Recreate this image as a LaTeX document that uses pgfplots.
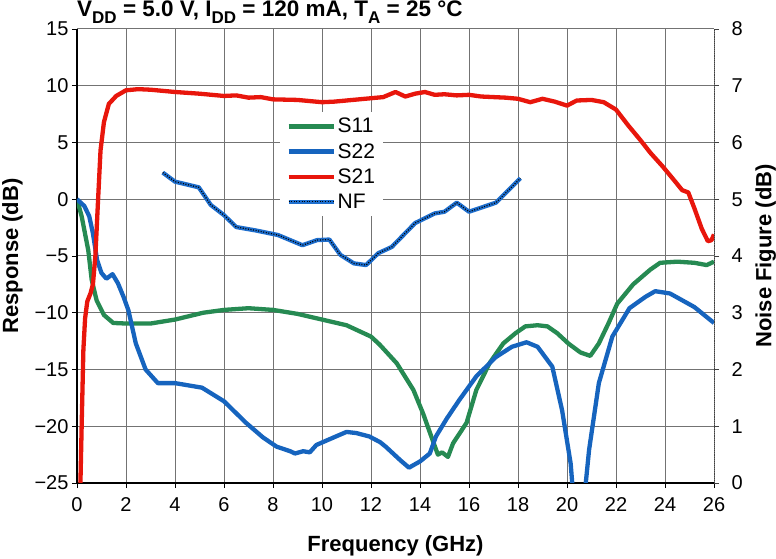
\documentclass[border=0pt]{standalone}
\usepackage{pgfplots}
\pgfplotsset{compat=1.18}
\usepackage{fontspec}
\setmainfont{Liberation Sans}
\definecolor{sgreen}{RGB}{38,138,82}
\definecolor{sblue}{RGB}{22,100,190}
\definecolor{sred}{RGB}{232,22,12}
\definecolor{nfblue}{RGB}{30,110,205}
\tikzset{nfstyle/.style={nfblue, line width=4.3pt, line join=round, postaction={draw=black, line width=1.2pt, dash pattern=on 1pt off 1.6pt}}}
\newcommand{\sub}[1]{\raisebox{-0.28em}{\fontsize{17}{17}\selectfont #1}}
\begin{document}
\begin{tikzpicture}
\begin{axis}[
  name=main,
  scale only axis, width=637pt, height=454pt,
  xmin=0, xmax=26, ymin=-25, ymax=15,
  xtick={0,2,...,26}, ytick={-25,-20,...,15},
  yticklabels={−25,−20,−15,−10,−5,0,5,10,15},
  /pgf/number format/assume math mode=true,
  axis x line*=bottom, axis y line*=left,
  axis line style={-, line width=1.6pt, black},
  tick align=outside, major tick length=5pt,
  tick style={black, line width=0.8pt},
  grid=major, major grid style={black!55, line width=1pt},
  tick label style={font=\fontsize{20}{20}\selectfont},
  xticklabel style={yshift=-6pt},
  xlabel={Frequency (GHz)}, ylabel={Response (dB)},
  xlabel style={yshift=-17pt},
  ylabel style={yshift=5pt},
  label style={font=\bfseries\fontsize{22}{22}\selectfont},
  legend style={at={(0.319,0.817)}, anchor=north west, draw=none, fill=white,
    font=\fontsize{21}{21}\selectfont, row sep=5pt, inner xsep=6pt, inner ysep=4pt},
  legend cell align=left,
  legend image code/.code={\draw[#1] (0pt,0pt) -- (45pt,0pt);},
]
\addplot[sgreen, line width=4.3pt, line join=round] coordinates {
(0,0) (0.19,-1.5) (0.46,-4.5) (0.6,-7.1) (0.8,-8.9) (1.1,-10.2) (1.48,-10.9)
(2.0,-10.95) (3.0,-10.95) (4.0,-10.6) (5.15,-10.0) (6.0,-9.75) (7.0,-9.6)
(8.0,-9.75) (9.0,-10.1) (10.0,-10.6) (11.0,-11.1) (12.0,-12.1) (12.35,-12.8)
(13.05,-14.45) (13.73,-16.8) (14.13,-18.9) (14.46,-20.9) (14.73,-22.5) (14.9,-22.3)
(15.14,-22.7) (15.35,-21.5) (15.9,-19.7) (16.3,-16.8) (16.85,-14.4) (17.4,-12.7)
(17.9,-11.8) (18.3,-11.2) (18.8,-11.1) (19.2,-11.2) (19.6,-11.8) (20.05,-12.7)
(20.55,-13.5) (20.95,-13.8) (21.3,-12.7) (21.7,-10.9) (22.05,-9.2) (22.7,-7.5)
(23.4,-6.2) (23.8,-5.6) (24.5,-5.5) (25.2,-5.6) (25.7,-5.8) (26.0,-5.5)
};
\addlegendentry{S11}
\addplot[sblue, line width=4.3pt, line join=round] coordinates {
(0,0) (0.3,-0.6) (0.5,-1.5) (0.65,-3) (0.82,-5.35) (1.0,-6.5) (1.2,-7.0) (1.45,-6.6)
(1.67,-7.4) (1.9,-8.6) (2.1,-9.8) (2.4,-12.7) (2.8,-15.0) (3.3,-16.2) (4.0,-16.2)
(5.1,-16.6) (6.0,-17.8) (6.9,-19.7) (7.6,-21.0) (8.15,-21.8) (8.7,-22.2) (8.9,-22.4)
(9.23,-22.2) (9.5,-22.3) (9.77,-21.65) (10.3,-21.15) (11.0,-20.5) (11.4,-20.6)
(11.93,-20.9) (12.37,-21.4) (12.6,-21.8) (13.2,-23.0) (13.55,-23.65) (14.0,-23.1)
(14.4,-22.4) (14.65,-20.9) (15.1,-19.3) (15.6,-17.7) (16.3,-15.6) (17.1,-13.9)
(17.75,-13.0) (18.35,-12.6) (18.8,-13.0) (19.4,-14.75) (19.8,-18.6) (20.15,-23.3)
(20.25,-26) (20.72,-26) (20.9,-22.1) (21.3,-16.2) (21.85,-12.1) (22.55,-9.6)
(23.2,-8.6) (23.6,-8.1) (24.2,-8.3) (25.2,-9.5) (26.0,-10.9)
};
\addlegendentry{S22}
\addplot[sred, line width=4.3pt, line join=round] coordinates {
(0.13,-26) (0.2,-19) (0.26,-13.3) (0.33,-10.5) (0.42,-9) (0.55,-8.3) (0.65,-7.5)
(0.75,-5) (0.85,-0.5) (0.96,4.3) (1.1,6.8) (1.3,8.4) (1.6,9.1) (2.0,9.6) (2.5,9.7)
(3.0,9.65) (4.0,9.45) (5.0,9.3) (6.0,9.1) (6.5,9.15) (7.0,8.95) (7.5,9.0) (8.0,8.8)
(9.0,8.75) (10.0,8.55) (10.5,8.6) (11.0,8.7) (11.5,8.8) (12.0,8.9) (12.5,9.0)
(13.0,9.45) (13.4,9.05) (13.8,9.3) (14.2,9.45) (14.6,9.2) (15.0,9.25) (15.5,9.15)
(16.0,9.2) (16.5,9.05) (17.0,9.0) (17.5,8.95) (18.0,8.85) (18.5,8.55) (19.0,8.85)
(19.5,8.6) (20.0,8.25) (20.4,8.7) (21.0,8.75) (21.5,8.55) (22.0,7.9) (22.5,6.5)
(23.0,5.2) (23.4,4.1) (23.9,2.9) (24.4,1.6) (24.7,0.8) (24.95,0.6) (25.2,-0.8)
(25.5,-2.6) (25.75,-3.7) (25.9,-3.6) (26.0,-3.1)
};
\addlegendentry{S21}
\addlegendimage{nfstyle}
\addlegendentry{NF}
\end{axis}
\begin{axis}[
  scale only axis, width=637pt, height=454pt,
  xmin=0, xmax=26, ymin=0, ymax=8,
  ytick={0,1,...,8},
  /pgf/number format/assume math mode=true,
  axis x line=none, axis y line*=right,
  axis line style={-, densely dotted, black!75, line width=0.9pt},
  tick align=outside, major tick length=5pt,
  tick style={black!75, line width=0.8pt},
  tick label style={font=\fontsize{20}{20}\selectfont},
  yticklabel style={xshift=9pt},
  ylabel={Noise Figure (dB)},
  ylabel style={yshift=-6pt},
  label style={font=\bfseries\fontsize{22}{22}\selectfont},
]
\addplot[nfstyle] coordinates {
(3.5,5.47) (4.0,5.31) (4.97,5.21) (5.46,4.9) (6.0,4.72) (6.5,4.51) (7.3,4.45)
(8.2,4.37) (9.2,4.19) (9.8,4.28) (10.3,4.29) (10.75,4.02) (11.3,3.87) (11.8,3.84)
(12.3,4.05) (12.85,4.16) (13.8,4.58) (14.6,4.75) (15.0,4.78) (15.5,4.94) (16.0,4.78)
(17.1,4.94) (18.1,5.37)
};
\end{axis}
\node[anchor=base west, font=\bfseries\fontsize{22.5}{22.5}\selectfont, inner sep=0pt]
  at ([yshift=12pt]main.north west) {V\sub{DD} = 5.0 V, I\sub{DD} = 120 mA, T\sub{A} = 25 °C};
\pgfresetboundingbox
\path[use as bounding box] (-77pt,-76pt) rectangle (699pt,483pt);
\end{tikzpicture}
\end{document}
